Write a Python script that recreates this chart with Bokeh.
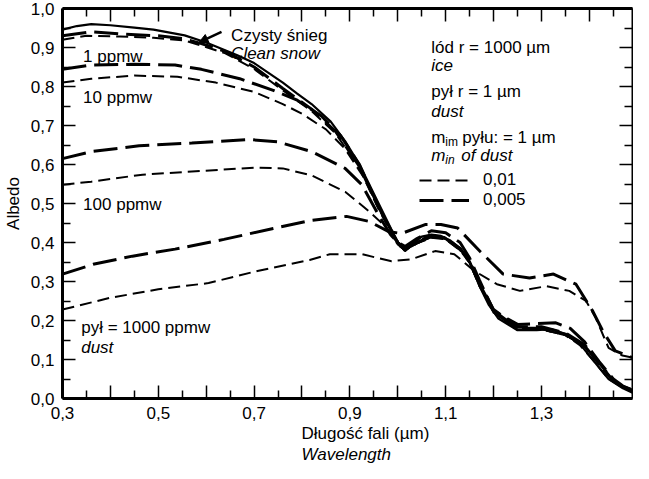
from bokeh.plotting import figure
from bokeh.models import (Range1d, LinearAxis, FixedTicker, CustomJSTickFormatter,
                          Label, Arrow, NormalHead, Legend, LegendItem, Title)
from bokeh.embed import file_html
from bokeh.resources import INLINE

FONT = "Liberation Sans"
FS = "17px"

# ---------------- data ----------------
x_major = [0.3, 0.4, 0.5, 0.6, 0.7, 0.8, 0.9, 1.0, 1.1, 1.2, 1.3, 1.4]
x_minor = [0.35, 0.45, 0.55, 0.65, 0.75, 0.85, 0.95, 1.05, 1.15, 1.25, 1.35, 1.45]
y_major = [0.0, 0.1, 0.2, 0.3, 0.4, 0.5, 0.6, 0.7, 0.8, 0.9, 1.0]
y_minor = [0.05, 0.15, 0.25, 0.35, 0.45, 0.55, 0.65, 0.75, 0.85, 0.95]

# clean snow
snow_x = [0.30, 0.33, 0.36, 0.40, 0.45, 0.49, 0.555, 0.60, 0.665, 0.70, 0.73, 0.76, 0.79, 0.82,
          0.86, 0.89, 0.92, 0.94, 0.96, 0.98, 1.00, 1.015, 1.03, 1.05, 1.07, 1.09, 1.11, 1.13,
          1.15, 1.17, 1.19, 1.21, 1.25, 1.29, 1.32, 1.35, 1.38, 1.41, 1.44, 1.47, 1.49]
snow_y = [0.946, 0.955, 0.960, 0.957, 0.951, 0.946, 0.931, 0.913, 0.880, 0.860, 0.835, 0.810,
          0.782, 0.755, 0.710, 0.660, 0.600, 0.550, 0.500, 0.450, 0.400, 0.378, 0.395, 0.415,
          0.420, 0.417, 0.405, 0.385, 0.350, 0.290, 0.240, 0.205, 0.175, 0.175, 0.178, 0.165,
          0.140, 0.095, 0.050, 0.026, 0.015]

# 1 ppmw
p1_long_x = [0.30, 0.36, 0.42, 0.50, 0.555, 0.59, 0.64, 0.70, 0.76, 0.82, 0.87, 0.92, 0.96,
             1.00, 1.015, 1.04, 1.07, 1.10, 1.13, 1.15, 1.17, 1.20, 1.25, 1.30, 1.35, 1.39,
             1.42, 1.45, 1.47, 1.49]
p1_long_y = [0.930, 0.940, 0.935, 0.930, 0.922, 0.910, 0.890, 0.850, 0.795, 0.742, 0.685,
             0.595, 0.490, 0.400, 0.382, 0.400, 0.415, 0.410, 0.382, 0.350, 0.295, 0.225,
             0.180, 0.180, 0.165, 0.135, 0.090, 0.045, 0.030, 0.020]
p1_short_x = [0.30, 0.35, 0.42, 0.49, 0.555, 0.59, 0.64, 0.70, 0.76, 0.82, 0.87, 0.92, 0.96,
              1.00, 1.015, 1.04, 1.07, 1.10, 1.13, 1.15, 1.17, 1.20, 1.25, 1.30, 1.35, 1.39,
              1.42, 1.45, 1.47, 1.49]
p1_short_y = [0.920, 0.930, 0.928, 0.925, 0.918, 0.905, 0.885, 0.845, 0.790, 0.737, 0.680,
              0.590, 0.485, 0.395, 0.380, 0.398, 0.412, 0.408, 0.380, 0.348, 0.290, 0.222,
              0.176, 0.177, 0.163, 0.133, 0.088, 0.044, 0.028, 0.018]

# 10 ppmw
p10_long_x = [0.30, 0.36, 0.45, 0.535, 0.59, 0.67, 0.74, 0.79, 0.84, 0.88, 0.92, 0.96, 1.00,
              1.015, 1.04, 1.07, 1.10, 1.13, 1.15, 1.17, 1.20, 1.25, 1.30, 1.35, 1.39, 1.42,
              1.45, 1.47, 1.49]
p10_long_y = [0.844, 0.855, 0.857, 0.855, 0.844, 0.820, 0.790, 0.765, 0.725, 0.675, 0.600,
              0.490, 0.400, 0.383, 0.402, 0.418, 0.412, 0.385, 0.352, 0.298, 0.228, 0.184,
              0.184, 0.168, 0.138, 0.092, 0.046, 0.031, 0.021]
p10_short_x = [0.30, 0.36, 0.45, 0.54, 0.62, 0.70, 0.76, 0.80, 0.85, 0.89, 0.93, 0.97, 1.00,
               1.015, 1.04, 1.07, 1.10, 1.13, 1.15, 1.17, 1.20, 1.25, 1.30, 1.35, 1.39, 1.42,
               1.45, 1.47, 1.49]
p10_short_y = [0.810, 0.820, 0.828, 0.825, 0.810, 0.786, 0.755, 0.730, 0.690, 0.640, 0.565,
               0.470, 0.395, 0.380, 0.398, 0.414, 0.409, 0.383, 0.349, 0.292, 0.222, 0.177,
               0.177, 0.163, 0.134, 0.089, 0.045, 0.029, 0.019]

# 100 ppmw
p100_long_x = [0.30, 0.36, 0.46, 0.57, 0.69, 0.75, 0.82, 0.89, 0.925, 0.96, 0.985, 1.00,
               1.015, 1.04, 1.07, 1.10, 1.13, 1.15, 1.17, 1.20, 1.25, 1.29, 1.33, 1.36, 1.39,
               1.42, 1.45, 1.47, 1.49]
p100_long_y = [0.615, 0.633, 0.648, 0.655, 0.664, 0.658, 0.633, 0.590, 0.548, 0.470, 0.420,
               0.400, 0.390, 0.410, 0.430, 0.425, 0.400, 0.360, 0.305, 0.225, 0.190, 0.192,
               0.194, 0.180, 0.145, 0.095, 0.050, 0.032, 0.022]
p100_short_x = [0.30, 0.36, 0.467, 0.57, 0.70, 0.76, 0.82, 0.89, 0.94, 0.975, 1.00, 1.015,
                1.04, 1.07, 1.10, 1.13, 1.15, 1.17, 1.20, 1.25, 1.30, 1.35, 1.38, 1.41, 1.44,
                1.47, 1.49]
p100_short_y = [0.548, 0.556, 0.574, 0.582, 0.592, 0.590, 0.572, 0.530, 0.480, 0.440, 0.395,
                0.380, 0.398, 0.414, 0.410, 0.385, 0.350, 0.290, 0.220, 0.178, 0.178, 0.162,
                0.137, 0.095, 0.050, 0.028, 0.018]

# 1000 ppmw
p1000_long_x = [0.30, 0.364, 0.446, 0.535, 0.637, 0.74, 0.816, 0.893, 0.94, 0.981, 1.008,
                1.057, 1.09, 1.125, 1.172, 1.22, 1.275, 1.325, 1.372, 1.407, 1.428, 1.454, 1.49]
p1000_long_y = [0.319, 0.344, 0.365, 0.383, 0.408, 0.436, 0.456, 0.467, 0.454, 0.428, 0.423,
                0.446, 0.446, 0.437, 0.377, 0.319, 0.309, 0.319, 0.293, 0.224, 0.173, 0.122,
                0.105]
p1000_short_x = [0.30, 0.399, 0.50, 0.605, 0.707, 0.816, 0.858, 0.925, 0.987, 1.028, 1.078,
                 1.118, 1.16, 1.207, 1.255, 1.31, 1.358, 1.393, 1.413, 1.44, 1.469, 1.49]
p1000_short_y = [0.228, 0.258, 0.280, 0.296, 0.327, 0.355, 0.370, 0.370, 0.352, 0.357, 0.378,
                 0.370, 0.327, 0.293, 0.276, 0.288, 0.276, 0.250, 0.207, 0.130, 0.110, 0.105]

legend_labels = ["0,01", "0,005"]

# ---------------- figure ----------------
p = figure(width=633, height=463, output_backend="svg", toolbar_location=None,
           x_range=Range1d(0.3, 1.49), y_range=Range1d(0.0, 1.0),
           x_axis_location=None, y_axis_location=None,
           min_border_left=61, min_border_right=1, min_border_top=8, min_border_bottom=60)
p.outline_line_color = None
p.xgrid.visible = False
p.ygrid.visible = False
p.background_fill_color = "white"
p.border_fill_color = "white"

fmt_x = CustomJSTickFormatter(code="""
const v = Math.round(tick * 10);
return (v % 2 === 1) ? tick.toFixed(1).replace('.', ',') : '';
""")
fmt_y = CustomJSTickFormatter(code="return tick.toFixed(1).replace('.', ',');")
fmt_none = CustomJSTickFormatter(code="return '';")


def style(ax, width=3):
    ax.axis_line_width = width
    ax.axis_line_color = "black"
    ax.major_tick_in = 13
    ax.major_tick_out = 0
    ax.minor_tick_in = 8
    ax.minor_tick_out = 0
    ax.major_tick_line_width = 1.5
    ax.minor_tick_line_width = 1.5
    ax.major_tick_line_color = "black"
    ax.minor_tick_line_color = "black"
    ax.major_label_text_font = FONT
    ax.major_label_text_font_size = FS
    ax.major_label_text_color = "black"


xb = LinearAxis(ticker=FixedTicker(ticks=x_major, minor_ticks=x_minor), formatter=fmt_x)
style(xb)
xb.major_label_standoff = 8
p.add_layout(xb, "below")

xt = LinearAxis(ticker=FixedTicker(ticks=x_major, minor_ticks=x_minor), formatter=fmt_none)
style(xt, 3)
xt.major_label_standoff = 0
xt.major_label_text_font_size = "1px"
p.add_layout(xt, "above")

yl = LinearAxis(ticker=FixedTicker(ticks=y_major, minor_ticks=y_minor), formatter=fmt_y)
style(yl)
yl.major_label_standoff = 8
yl.axis_label = "Albedo"
yl.axis_label_text_font = FONT
yl.axis_label_text_font_size = FS
yl.axis_label_text_font_style = "normal"
yl.axis_label_text_color = "black"
yl.axis_label_standoff = 5
p.add_layout(yl, "left")

yr = LinearAxis(ticker=FixedTicker(ticks=y_major, minor_ticks=y_minor), formatter=fmt_none)
style(yr, 2)
yr.major_label_standoff = 0
yr.major_label_text_font_size = "1px"
p.add_layout(yr, "right")

# x-axis title (two lines, the second in italics), left-aligned like the reference
t1 = Title(text="Długość fali (µm)", align="left", offset=239, standoff=0,
           text_font=FONT, text_font_size=FS, text_font_style="normal", text_color="black")
t2 = Title(text="Wavelength", align="left", offset=239, standoff=0,
           text_font=FONT, text_font_size=FS, text_font_style="italic", text_color="black")
p.add_layout(t1, "below")
p.add_layout(t2, "below")

SHORT = "12 6"
LONG = "24 8"

p.line(snow_x, snow_y, line_color="black", line_width=2.2)
r1l = p.line(p1_long_x, p1_long_y, line_color="black", line_width=3, line_dash=LONG)
r1s = p.line(p1_short_x, p1_short_y, line_color="black", line_width=2, line_dash=SHORT)
p.line(p10_long_x, p10_long_y, line_color="black", line_width=3, line_dash=LONG)
p.line(p10_short_x, p10_short_y, line_color="black", line_width=2, line_dash=SHORT)
p.line(p100_long_x, p100_long_y, line_color="black", line_width=3, line_dash=LONG)
p.line(p100_short_x, p100_short_y, line_color="black", line_width=2, line_dash=SHORT)
p.line(p1000_long_x, p1000_long_y, line_color="black", line_width=3, line_dash=LONG)
p.line(p1000_short_x, p1000_short_y, line_color="black", line_width=2, line_dash=SHORT)

legend = Legend(items=[LegendItem(label=legend_labels[0], renderers=[r1s]),
                       LegendItem(label=legend_labels[1], renderers=[r1l])],
                location=(357, 188), orientation="vertical",
                glyph_width=50, glyph_height=18, label_height=18, label_standoff=14,
                spacing=0, padding=0, margin=0,
                border_line_color=None, background_fill_alpha=0,
                label_text_font=FONT, label_text_font_size=FS, label_text_color="black")
p.add_layout(legend)


def txt(x, y, s, style="normal", size=FS, xo=0, yo=0):
    p.add_layout(Label(x=x, y=y, text=s, x_offset=xo, y_offset=yo,
                       text_font=FONT, text_font_size=size, text_font_style=style,
                       text_color="black", text_baseline="alphabetic", text_align="left"))


# annotations (data coordinates)
txt(0.652, 0.931, "Czysty śnieg")
txt(0.652, 0.885, "Clean snow", "italic")
txt(0.343, 0.878, "1 ppmw")
txt(0.343, 0.773, "10 ppmw")
txt(0.343, 0.497, "100 ppmw")
txt(0.339, 0.181, "pył = 1000 ppmw")
txt(0.339, 0.130, "dust", "italic")

LX = 1.07
txt(LX, 0.900, "lód r = 1000 µm")
txt(LX, 0.855, "ice", "italic")
txt(LX, 0.786, "pył r = 1 µm")
txt(LX, 0.737, "dust", "italic")
txt(LX, 0.668, "m")
txt(LX, 0.668, "im", size="12px", xo=14, yo=-4)
txt(LX, 0.668, "pyłu: = 1 µm", xo=31)
txt(LX, 0.622, "m", "italic")
txt(LX, 0.622, "in", "italic", size="12px", xo=14, yo=-4)
txt(LX, 0.622, "of dust", "italic", xo=30)

# arrow from the "Czysty śnieg" label to the clean-snow curve
p.add_layout(Arrow(x_start=0.632, y_start=0.940, x_end=0.585, y_end=0.913,
                   line_width=2.5, line_color="black",
                   end=NormalHead(size=9, fill_color="black", line_color="black")))

open("out.html", "w").write(file_html(p, INLINE))
